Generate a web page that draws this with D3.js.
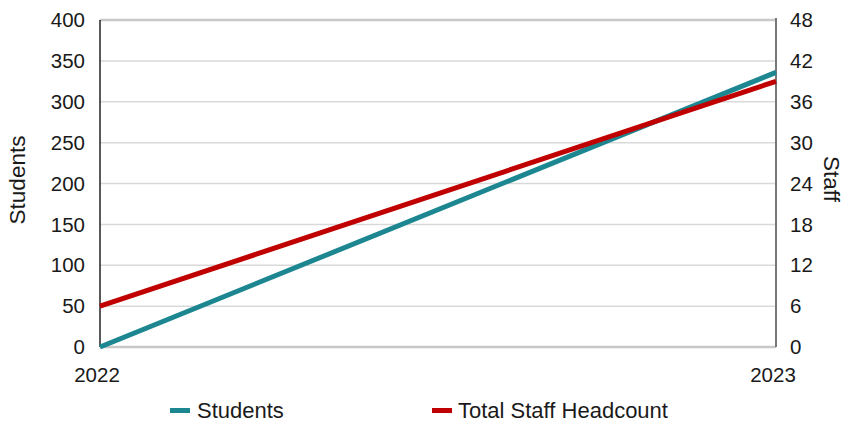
<!DOCTYPE html>
<html><head><meta charset="utf-8">
<script src="https://cdn.jsdelivr.net/npm/d3@7"></script>
<style>body{margin:0;background:#fff}svg{display:block;font-family:"Liberation Sans",Arial,sans-serif}</style>
</head><body><svg id="c" width="846" height="424"></svg>
<script>
const years = ["2022", "2023"];
const students = [0, 336];
const staff = [6, 39];
const leftTicks = [0, 50, 100, 150, 200, 250, 300, 350, 400];
const rightTicks = [0, 6, 12, 18, 24, 30, 36, 42, 48];
const seriesNames = ["Students", "Total Staff Headcount"];
const colors = ["#1c8791", "#c00000"];

const svg = d3.select("#c");
const L = 100, R = 776, T = 20, B = 347;
const x = d3.scalePoint().domain(years).range([L, R]);
const yL = d3.scaleLinear().domain([0, 400]).range([B, T]);
const yR = d3.scaleLinear().domain([0, 48]).range([B, T]);
const FS = 20.5;

svg.append("g").selectAll("line").data(leftTicks).join("line")
  .attr("x1", L).attr("x2", R).attr("y1", d => yL(d)).attr("y2", d => yL(d))
  .attr("stroke", d => (d === 0 || d === 400) ? "#c8c8c8" : "#d9d9d9")
  .attr("stroke-width", d => (d === 0 || d === 400) ? 2.5 : 1.5);

svg.append("line").attr("x1", L).attr("x2", L).attr("y1", T).attr("y2", B).attr("stroke", "#222").attr("stroke-width", 1.5);
svg.append("line").attr("x1", R).attr("x2", R).attr("y1", T - 2).attr("y2", B).attr("stroke", "#777").attr("stroke-width", 2);

svg.append("g").selectAll("text").data(leftTicks).join("text")
  .attr("x", 85).attr("y", d => yL(d)).attr("dy", "0.35em").attr("text-anchor", "end")
  .attr("font-size", FS).attr("fill", "#1a1a1a").text(d => d);
svg.append("g").selectAll("text").data(rightTicks).join("text")
  .attr("x", 790).attr("y", d => yR(d)).attr("dy", "0.35em").attr("text-anchor", "start")
  .attr("font-size", FS).attr("fill", "#1a1a1a").text(d => d);
svg.append("g").selectAll("text").data(years).join("text")
  .attr("x", d => x(d) - 3).attr("y", 382).attr("text-anchor", "middle")
  .attr("font-size", FS).attr("fill", "#1a1a1a").text(d => d);

svg.append("text").attr("transform", "translate(25,180) rotate(-90)").attr("text-anchor", "middle")
  .attr("font-size", 22.5).attr("fill", "#1a1a1a").text("Students");
svg.append("text").attr("transform", "translate(824,179) rotate(90)").attr("text-anchor", "middle")
  .attr("font-size", 22.5).attr("fill", "#1a1a1a").text("Staff");

const lineL = d3.line().x((d, i) => x(years[i])).y(d => yL(d));
const lineR = d3.line().x((d, i) => x(years[i])).y(d => yR(d));
svg.append("path").attr("d", lineL(students)).attr("fill", "none").attr("stroke", colors[0]).attr("stroke-width", 5);
svg.append("path").attr("d", lineR(staff)).attr("fill", "none").attr("stroke", colors[1]).attr("stroke-width", 5);

const lg = [[170, 197], [432, 458]];
seriesNames.forEach((n, i) => {
  svg.append("rect").attr("x", lg[i][0]).attr("y", 408).attr("width", 20).attr("height", 5).attr("fill", colors[i]);
  svg.append("text").attr("x", lg[i][1]).attr("y", 418).attr("font-size", 22).attr("fill", "#1a1a1a").text(n);
});
</script></body></html>
